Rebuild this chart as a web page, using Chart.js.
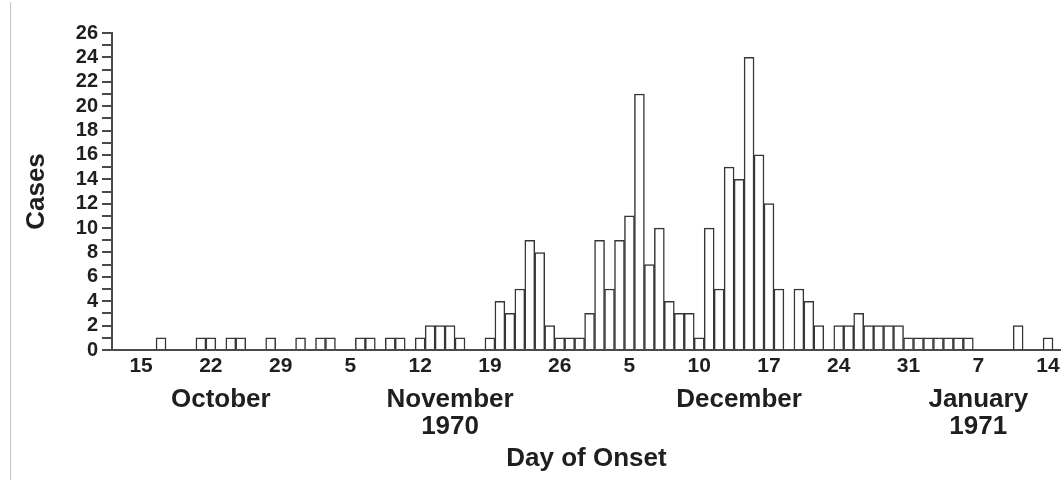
<!DOCTYPE html>
<html>
<head>
<meta charset="utf-8">
<title>Day of Onset</title>
<script src="https://cdn.jsdelivr.net/npm/chart.js@4.4.1/dist/chart.umd.min.js"></script>
<style>
  html, body { margin: 0; padding: 0; background: #fff; }
</style>
</head>
<body>
<canvas id="onset-chart" width="1061" height="485"></canvas>
<script>
'use strict';

// DATA

// one bar per day, Oct 13 1970 to Jan 15 1971
let monthSpans = [['Oct', 13, 31], ['Nov', 1, 30], ['Dec', 1, 31], ['Jan', 1, 15]];

let octCases = [0, 0, 0, 0, 1, 0, 0, 0, 1, 1, 0, 1, 1, 0, 0, 1, 0, 0, 1];
let novCases = [0, 1, 1, 0, 0, 1, 1, 0, 1, 1, 0, 1, 2, 2, 2, 1, 0, 0, 1, 4,
                3, 5, 9, 8, 2, 1, 1, 1, 3, 9];
let decCases = [5, 9, 11, 21, 7, 10, 4, 3, 3, 1, 10, 5, 15, 14, 24, 16, 12, 5, 0, 5,
                4, 2, 0, 2, 2, 3, 2, 2, 2, 2, 1];
let janCases = [1, 1, 1, 1, 1, 1, 0, 0, 0, 0, 2, 0, 0, 1, 0];

// weekly tick labels as printed on the original (the Dec 3 tick reads "5")
let tickDays = ['Oct 15', 'Oct 22', 'Oct 29', 'Nov 5', 'Nov 12', 'Nov 19', 'Nov 26',
                'Dec 3', 'Dec 10', 'Dec 17', 'Dec 24', 'Dec 31', 'Jan 7', 'Jan 14'];
let tickText = ['15', '22', '29', '5', '12', '19', '26', '5', '10', '17', '24', '31', '7', '14'];

// month captions under the ticks
let monthDays = ['Oct 23', 'Nov 15', 'Dec 14', 'Jan 7'];
let monthText = [['October'], ['November', '1970'], ['December'], ['January', '1971']];

let yMax = 26;

// STYLE

let fontFamily = '"Liberation Sans", Arial, Helvetica, sans-serif';
let textColor = '#1f1f1f';
let lineColor = '#4a4a4a';

// BUILD DAY INDEX (0 = Oct 15, the first labelled tick)

let days = [];
let dayIndex = {};
let n = -2;
for (let i = 0; i < monthSpans.length; i++) {
  for (let d = monthSpans[i][1]; d <= monthSpans[i][2]; d++) {
    let name = monthSpans[i][0] + ' ' + d;
    days.push(name);
    dayIndex[name] = n;
    n++;
  }
}
let cases = octCases.concat(novCases, decCases, janCases);

let points = [];
for (let i = 0; i < days.length; i++) {
  points.push({ x: dayIndex[days[i]], y: cases[i] === 0 ? null : cases[i] });
}

// PLUGIN FOR MONTH CAPTIONS + LEFT FRAME LINE

let monthLabelPlugin = {
  id: 'monthLabels',
  afterDraw(chart) {
    let c = chart.ctx;
    let xAxis = chart.scales.x;
    c.save();
    c.fillStyle = textColor;
    c.font = 'bold 26px ' + fontFamily;
    c.textAlign = 'center';
    c.textBaseline = 'middle';
    for (let i = 0; i < monthDays.length; i++) {
      let x = xAxis.getPixelForValue(dayIndex[monthDays[i]]);
      for (let j = 0; j < monthText[i].length; j++) {
        c.fillText(monthText[i][j], x, 400 + j * 27);
      }
    }
    c.strokeStyle = '#c4c4c4';
    c.lineWidth = 1;
    c.beginPath();
    c.moveTo(10.5, 2);
    c.lineTo(10.5, 480);
    c.stroke();
    c.restore();
  }
};

// CHART

let ctx = document.getElementById('onset-chart');

let chartObject = {
  type: 'bar',
  data: {
    datasets: [{
      label: 'Cases',
      data: points,
      backgroundColor: '#ffffff',
      borderColor: '#363636',
      borderWidth: 1.5,
      borderSkipped: 'bottom',
      categoryPercentage: 1,
      barPercentage: 1
    }]
  },
  options: {
    responsive: false,
    animation: false,
    devicePixelRatio: 1,
    layout: {
      padding: { top: 33, right: 0, left: 0, bottom: 0 }
    },
    plugins: {
      legend: { display: false },
      tooltip: { enabled: false }
    },
    scales: {
      x: {
        type: 'linear',
        min: -2.92,
        max: 92.3,
        offset: false,
        grid: { display: false },
        border: { display: true, color: lineColor, width: 2 },
        ticks: {
          stepSize: 7,
          includeBounds: false,
          autoSkip: false,
          maxRotation: 0,
          minRotation: 0,
          padding: -4,
          color: textColor,
          font: { family: fontFamily, size: 21, weight: 'bold' },
          callback: function (value) {
            let k = tickDays.indexOf(days[value + 2]);
            return k === -1 ? '' : tickText[k];
          }
        },
        title: {
          display: true,
          text: 'Day of Onset',
          color: textColor,
          font: { family: fontFamily, size: 26, weight: 'bold' },
          padding: { top: 0, bottom: 11 }
        },
        afterFit: function (scale) { scale.height = 135; }
      },
      y: {
        min: 0,
        max: yMax,
        grid: {
          drawOnChartArea: false,
          drawTicks: true,
          tickLength: 10,
          color: lineColor,
          lineWidth: 2
        },
        border: { display: true, color: lineColor, width: 2 },
        ticks: {
          stepSize: 1,
          autoSkip: false,
          padding: 4,
          color: textColor,
          font: { family: fontFamily, size: 20, weight: 'bold' },
          callback: function (value) { return value % 2 === 0 ? value : ''; }
        },
        title: {
          display: true,
          text: 'Cases',
          color: textColor,
          font: { family: fontFamily, size: 26, weight: 'bold' },
          padding: { top: 21, bottom: 0 }
        },
        afterFit: function (scale) { scale.width = 112; }
      }
    }
  },
  plugins: [monthLabelPlugin]
};

const onsetChart = new Chart(ctx, chartObject);
</script>
</body>
</html>
